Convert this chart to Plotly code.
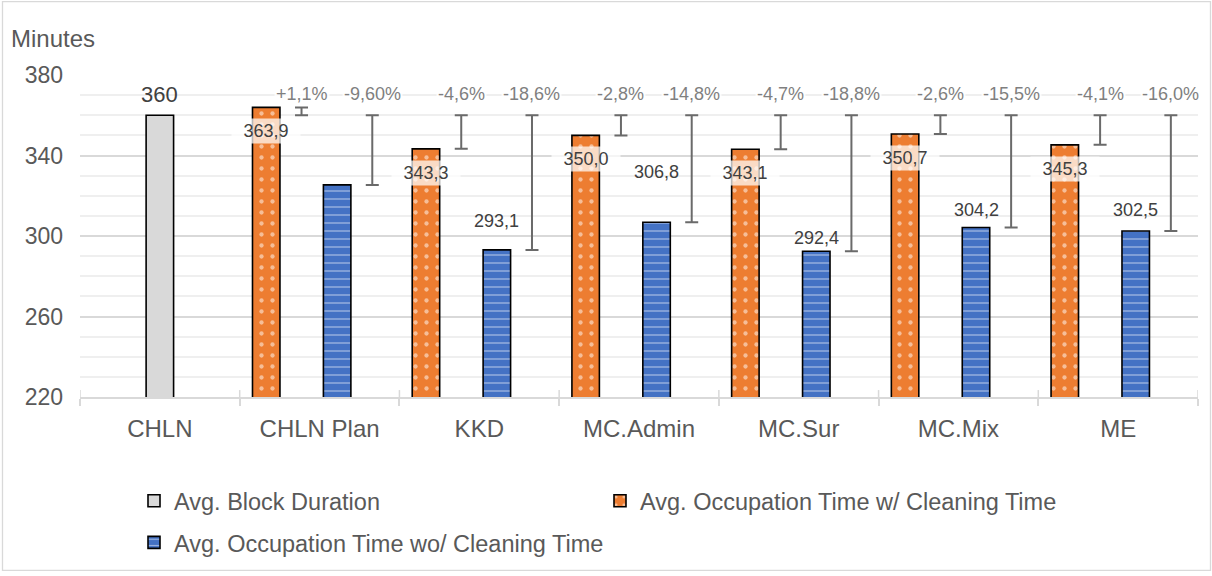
import plotly.graph_objects as go

# ---- data -------------------------------------------------------------
categories = ["CHLN", "CHLN Plan", "KKD", "MC.Admin", "MC.Sur", "MC.Mix", "ME"]

block_categories = ["CHLN"]
block_duration = [360]

occ_categories = ["CHLN Plan", "KKD", "MC.Admin", "MC.Sur", "MC.Mix", "ME"]
occ_with_cleaning = [363.9, 343.3, 350.0, 343.1, 350.7, 345.3]
occ_without_cleaning = [325.4, 293.1, 306.8, 292.4, 304.2, 302.5]
labelled_without = [False, True, True, True, True, True]

diff_with_labels = ["+1,1%", "-4,6%", "-2,8%", "-4,7%", "-2,6%", "-4,1%"]
diff_without_labels = ["-9,60%", "-18,6%", "-14,8%", "-18,8%", "-15,5%", "-16,0%"]

y_ticks = [220, 260, 300, 340, 380]

# ---- layout constants ---------------------------------------------------
W, H = 1212, 576
ML, MR, MT, MB = 80, 14, 75, 176
PW, PH = W - ML - MR, H - MT - MB
FONT = "Liberation Sans, Arial, sans-serif"
TXT = "#595959"
LBL = "#404040"
PCT = "#7f7f7f"

ORANGE = "#ED7D31"
BLUE = "#4472C4"
GREY = "#D9D9D9"

BAR_W = 0.172
OFF_WITH, OFF_ERR_WITH, OFF_WITHOUT, OFF_ERR_WITHOUT = -0.334, -0.113, 0.11, 0.33
# vertical offsets (px) of the labels sitting above the blue bars
without_label_shift = [24, 29, 50, 13, 18, 21]

ref = block_duration[0]
cat_idx = {c: i for i, c in enumerate(categories)}
block_x = [cat_idx[c] for c in block_categories]
occ_x = [cat_idx[c] for c in occ_categories]


def fmt(v):
    return f"{v:.1f}".replace(".", ",")


def px_x(p):
    return (p - ML) / PW


def px_y(p):
    return (MT + PH - p) / PH


fig = go.Figure()

outline = dict(color="black", width=1.6)

fig.add_trace(go.Bar(
    x=block_x, y=block_duration, width=BAR_W,
    name="Avg. Block Duration",
    marker=dict(color=GREY, line=outline),
    legend="legend",
))
fig.add_trace(go.Bar(
    x=[i + OFF_WITH for i in occ_x], y=occ_with_cleaning, width=BAR_W,
    name="Avg. Occupation Time w/ Cleaning Time",
    marker=dict(color=ORANGE, line=outline,
                pattern=dict(shape=".", fgcolor="white", bgcolor=ORANGE,
                             size=11, solidity=0.12)),
    legend="legend3",
))
fig.add_trace(go.Bar(
    x=[i + OFF_WITHOUT for i in occ_x], y=occ_without_cleaning, width=BAR_W,
    name="Avg. Occupation Time wo/ Cleaning Time",
    marker=dict(color=BLUE, line=outline,
                pattern=dict(shape="-", fgcolor="white", bgcolor=BLUE,
                             size=8, solidity=0.16)),
    legend="legend2",
))

# deviation from the block duration, drawn as error bars anchored at 360
def deviation_trace(xs, values):
    up = [max(v - ref, 0) for v in values]
    down = [max(ref - v, 0) for v in values]
    return go.Scatter(
        x=xs, y=[ref] * len(values), mode="markers",
        marker=dict(size=1, opacity=0), showlegend=False, hoverinfo="skip",
        error_y=dict(type="data", symmetric=False, array=up, arrayminus=down,
                     color="#6a6a6a", thickness=2, width=6.5),
    )


fig.add_trace(deviation_trace([i + OFF_ERR_WITH for i in occ_x], occ_with_cleaning))
fig.add_trace(deviation_trace([i + OFF_ERR_WITHOUT for i in occ_x], occ_without_cleaning))

ann = []
# block duration label
for x, v in zip(block_x, block_duration):
    ann.append(dict(x=x, y=v, text=str(v), showarrow=False, yshift=21,
                    font=dict(size=22, color=LBL)))
# value labels
for x, v in zip(occ_x, occ_with_cleaning):
    ann.append(dict(x=x + OFF_WITH, y=v, text=fmt(v), showarrow=False, yshift=-24,
                    bgcolor="rgba(255,255,255,0.72)", width=66, height=22,
                    font=dict(size=18, color=LBL)))
for x, v, show, dy in zip(occ_x, occ_without_cleaning, labelled_without,
                          without_label_shift):
    if show:
        ann.append(dict(x=x + OFF_WITHOUT, y=v, text=fmt(v), showarrow=False,
                        yshift=dy, font=dict(size=18, color=LBL)))
# percentage labels above the deviation bars
for x, t in zip(occ_x, diff_with_labels):
    ann.append(dict(x=x + OFF_ERR_WITH, y=ref, text=t, showarrow=False, yshift=21,
                    bgcolor="rgba(255,255,255,0.8)", font=dict(size=18, color=PCT)))
for x, t in zip(occ_x, diff_without_labels):
    ann.append(dict(x=x + OFF_ERR_WITHOUT, y=ref, text=t, showarrow=False, yshift=21,
                    bgcolor="rgba(255,255,255,0.8)", font=dict(size=18, color=PCT)))
# axis title
ann.append(dict(xref="paper", yref="paper", x=px_x(9), y=px_y(38), xanchor="left",
                yanchor="middle", text="Minutes", showarrow=False,
                font=dict(size=24, color=TXT)))

n = len(categories)
shapes = [
    # chart frame
    dict(type="rect", xref="paper", yref="paper", x0=px_x(2.5), x1=px_x(1210.5),
         y0=px_y(575), y1=px_y(1), line=dict(color="#d9d9d9", width=1.3),
         layer="below"),
]
# upper half of the category boundary tick marks
for k in range(n + 1):
    shapes.append(dict(type="line", xref="x", yref="paper", x0=k - 0.5, x1=k - 0.5,
                       y0=0, y1=7 / PH, line=dict(color="#d9d9d9", width=1.5)))

legend_common = dict(orientation="h", xanchor="left", yanchor="middle",
                     font=dict(size=23.5, color=TXT), bgcolor="rgba(0,0,0,0)")

fig.update_layout(
    width=W, height=H,
    margin=dict(l=ML, r=MR, t=MT, b=MB, pad=0),
    paper_bgcolor="white", plot_bgcolor="white",
    font=dict(family=FONT, color=TXT),
    barmode="overlay",
    showlegend=True,
    annotations=ann,
    shapes=shapes,
    xaxis=dict(
        range=[-0.5, n - 0.5], tickmode="array",
        tickvals=list(range(n)), ticktext=categories,
        ticks="", showgrid=False, zeroline=False,
        showline=True, linecolor="#d9d9d9", linewidth=1.5,
        tickfont=dict(size=24, color=TXT), ticklabelstandoff=9,
        minor=dict(tickmode="array", tickvals=[k - 0.5 for k in range(n + 1)],
                   ticks="outside", ticklen=7, tickcolor="#d9d9d9",
                   tickwidth=1.5, showgrid=False),
    ),
    yaxis=dict(
        range=[220, 380], tickmode="array", tickvals=y_ticks,
        ticks="", showline=False, zeroline=False,
        showgrid=True, gridcolor="#d9d9d9", gridwidth=1.5,
        tickfont=dict(size=23, color=TXT), ticklabelstandoff=16,
        minor=dict(dtick=10, showgrid=True, gridcolor="#efefef", gridwidth=1.5),
    ),
    legend=dict(x=px_x(134), y=px_y(505), **legend_common),
    legend3=dict(x=px_x(600), y=px_y(505), **legend_common),
    legend2=dict(x=px_x(134), y=px_y(547), **legend_common),
)

fig.write_html("out.html")
